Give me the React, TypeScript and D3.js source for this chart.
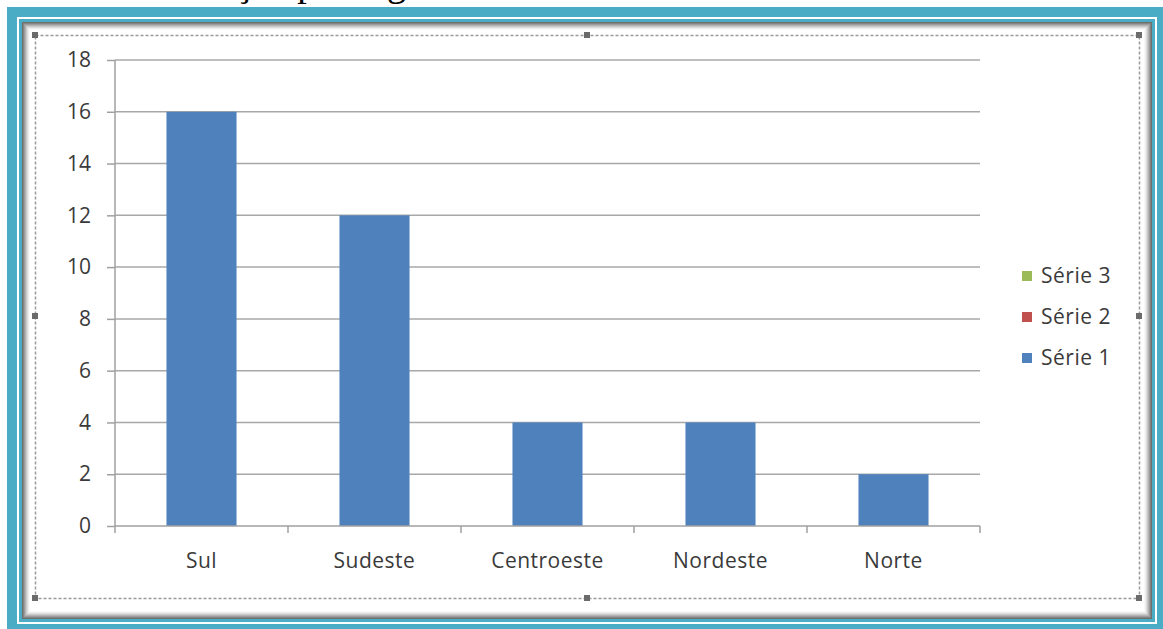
import { useEffect, useRef } from "react";
import * as d3 from "d3";

const categories = ["Sul", "Sudeste", "Centroeste", "Nordeste", "Norte"];
const serie1 = [16, 12, 4, 4, 2];
const yTicks = [0, 2, 4, 6, 8, 10, 12, 14, 16, 18];
const legendNames = ["Série 3", "Série 2", "Série 1"];
const legendColors = ["#9BBB59", "#C0504D", "#4F81BD"];

export default function App() {
  const svgRef = useRef<SVGSVGElement>(null);

  useEffect(() => {
    const width = 1163;
    const height = 629;
    const svg = d3.select(svgRef.current);
    svg.selectAll("*").remove();

    const font = "'Open Sans', sans-serif";
    const textColor = "#3a3a3a";

    svg.append("rect").attr("width", width).attr("height", height).attr("fill", "#fff");

    // caption of the page, cut off at the top like in the scan
    svg.append("text")
      .attr("x", 100)
      .attr("y", -4)
      .attr("font-family", "'Liberation Serif', serif")
      .attr("font-size", 38)
      .attr("fill", "#000")
      .text("Distribuição por região");

    // frame: thick teal, thin white, thin teal, grey shadow
    svg.append("rect").attr("x", 7).attr("y", 7).attr("width", 1156).attr("height", 622).attr("fill", "#4BACC6");
    svg.append("rect").attr("x", 17).attr("y", 17).attr("width", 1140).attr("height", 607).attr("fill", "#fff");
    svg.append("rect").attr("x", 19).attr("y", 19).attr("width", 1136).attr("height", 603).attr("fill", "#4BACC6");
    const shades = ["#6e6e6e", "#858585", "#9c9c9c", "#b3b3b3", "#c9c9c9", "#dddddd", "#eeeeee", "#f8f8f8"];
    shades.forEach((c, i) => {
      svg.append("rect")
        .attr("x", 22 + i).attr("y", 22 + i)
        .attr("width", 1130 - 2 * i).attr("height", 597 - 2 * i)
        .attr("fill", c);
    });
    svg.append("rect").attr("x", 30).attr("y", 30).attr("width", 1114).attr("height", 581).attr("fill", "#fff");

    // dashed selection border with handles
    svg.append("rect")
      .attr("x", 35.5).attr("y", 35.5).attr("width", 1104).attr("height", 563)
      .attr("fill", "none").attr("stroke", "#999").attr("stroke-width", 1.5)
      .attr("stroke-dasharray", "3,2");
    const handles = [[35, 35], [587, 35], [1139, 35], [35, 316], [1139, 316], [35, 598], [587, 598], [1139, 598]];
    handles.forEach(([hx, hy]) => {
      svg.append("rect").attr("x", hx - 3).attr("y", hy - 3).attr("width", 6).attr("height", 6).attr("fill", "#6b6b6b");
    });

    const left = 115, right = 980, top = 60, bottom = 526;

    const x = d3.scaleBand<string>().domain(categories).range([left, right]).padding(0);
    const y = d3.scaleLinear().domain([0, 18]).range([bottom, top]);

    // gridlines
    svg.append("g")
      .selectAll("line")
      .data(yTicks.filter(t => t > 0))
      .enter()
      .append("line")
      .attr("x1", left).attr("x2", right)
      .attr("y1", d => y(d)).attr("y2", d => y(d))
      .attr("stroke", "#a8a8a8").attr("stroke-width", 1.5);

    // y axis
    const yAxis = svg.append("g")
      .attr("transform", `translate(${left},0)`)
      .call(d3.axisLeft(y).tickValues(yTicks).tickSize(8).tickPadding(16).tickFormat(d3.format("d")));
    yAxis.select(".domain").attr("stroke", "#a0a0a0").attr("stroke-width", 1.5).attr("d", `M0,${top}V${bottom}`);
    yAxis.selectAll(".tick line").attr("stroke", "#a0a0a0").attr("stroke-width", 1.5);
    yAxis.selectAll(".tick text")
      .attr("font-family", font).attr("font-size", 21).attr("fill", textColor);

    // bars
    const barW = x.bandwidth() * 0.405;
    svg.append("g")
      .selectAll("rect")
      .data(serie1)
      .enter()
      .append("rect")
      .attr("x", (d, i) => x(categories[i])! + (x.bandwidth() - barW) / 2)
      .attr("y", d => y(d))
      .attr("width", barW)
      .attr("height", d => bottom - y(d))
      .attr("fill", "#4F81BD");

    // x axis line with boundary ticks
    svg.append("line")
      .attr("x1", left).attr("x2", right).attr("y1", bottom).attr("y2", bottom)
      .attr("stroke", "#a0a0a0").attr("stroke-width", 1.5);
    const bounds = categories.map(c => x(c)!).concat([right]);
    svg.append("g")
      .selectAll("line")
      .data(bounds)
      .enter()
      .append("line")
      .attr("x1", d => d).attr("x2", d => d)
      .attr("y1", bottom).attr("y2", bottom + 7)
      .attr("stroke", "#a0a0a0").attr("stroke-width", 1.5);

    svg.append("g")
      .selectAll("text")
      .data(categories)
      .enter()
      .append("text")
      .attr("x", d => x(d)! + x.bandwidth() / 2)
      .attr("y", 568)
      .attr("text-anchor", "middle")
      .attr("font-family", font).attr("font-size", 21).attr("letter-spacing", 0.5).attr("fill", textColor)
      .text(d => d);

    // legend
    const legend = svg.append("g").attr("transform", "translate(1022,0)");
    legendNames.forEach((name, i) => {
      const ly = 276 + i * 41;
      legend.append("rect").attr("x", 0).attr("y", ly - 5).attr("width", 10).attr("height", 10).attr("fill", legendColors[i]);
      legend.append("text")
        .attr("x", 19).attr("y", ly + 7)
        .attr("font-family", font).attr("font-size", 21).attr("letter-spacing", 0.5).attr("fill", textColor)
        .text(name);
    });
  }, []);

  return (
    <svg
      ref={svgRef}
      width={1163}
      height={629}
      style={{ position: "absolute", left: 0, top: 0 }}
    ></svg>
  );
}
